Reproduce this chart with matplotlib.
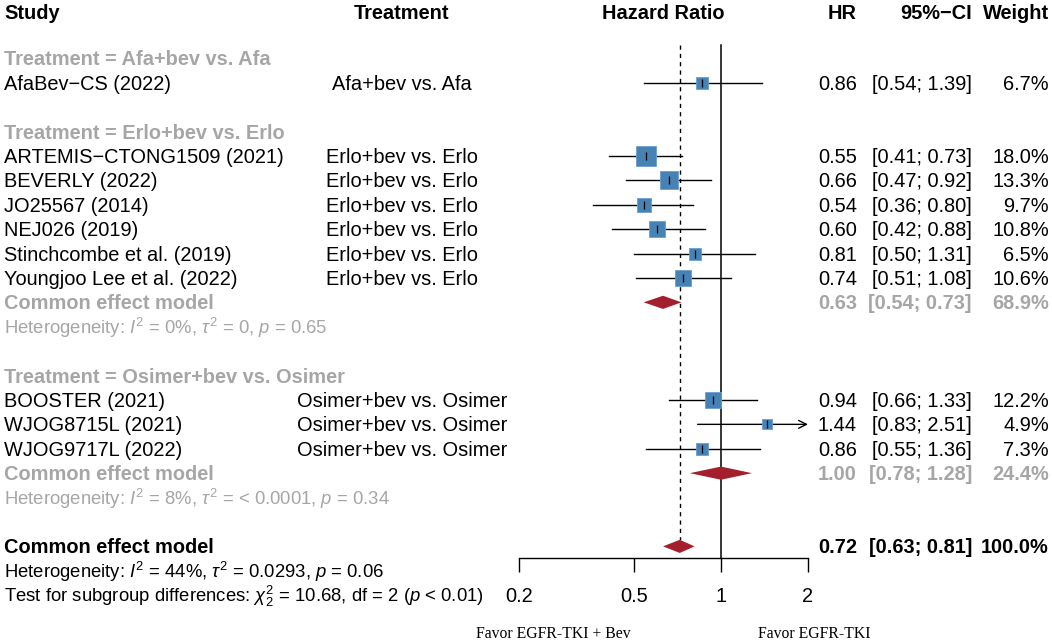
import matplotlib
matplotlib.use("Agg")
import matplotlib.pyplot as plt
import numpy as np
from matplotlib.transforms import blended_transform_factory
from matplotlib.ticker import NullLocator

plt.rcParams['font.family'] = ['Liberation Sans', 'DejaVu Sans']
plt.rcParams['mathtext.fontset'] = 'custom'
plt.rcParams['mathtext.rm'] = 'Liberation Sans'
plt.rcParams['mathtext.it'] = 'Liberation Sans:italic'
plt.rcParams['mathtext.bf'] = 'Liberation Sans:bold'

# data
groups = ["Afa+bev vs. Afa", "Erlo+bev vs. Erlo", "Osimer+bev vs. Osimer"]
study = ["AfaBev\u2212CS (2022)", "ARTEMIS\u2212CTONG1509 (2021)", "BEVERLY (2022)",
         "JO25567 (2014)", "NEJ026 (2019)", "Stinchcombe et al. (2019)",
         "Youngjoo Lee et al. (2022)", "BOOSTER (2021)", "WJOG8715L (2021)",
         "WJOG9717L (2022)"]
study_group = [0, 1, 1, 1, 1, 1, 1, 2, 2, 2]
hr = [0.86, 0.55, 0.66, 0.54, 0.60, 0.81, 0.74, 0.94, 1.44, 0.86]
lo = [0.54, 0.41, 0.47, 0.36, 0.42, 0.50, 0.51, 0.66, 0.83, 0.55]
hi = [1.39, 0.73, 0.92, 0.80, 0.88, 1.31, 1.08, 1.33, 2.51, 1.36]
weight = [6.7, 18.0, 13.3, 9.7, 10.8, 6.5, 10.6, 12.2, 4.9, 7.3]

# pooled per subgroup (None where only one study)
sub_hr = [None, 0.63, 1.00]
sub_lo = [None, 0.54, 0.78]
sub_hi = [None, 0.73, 1.28]
sub_w = [None, 68.9, 24.4]
sub_het = [None,
           r"Heterogeneity: $I^2$ = 0%, $\tau^2$ = 0, $p$ = 0.65",
           r"Heterogeneity: $I^2$ = 8%, $\tau^2$ = < 0.0001, $p$ = 0.34"]

overall = (0.72, 0.63, 0.81, 100.0)
overall_het = r"Heterogeneity: $I^2$ = 44%, $\tau^2$ = 0.0293, $p$ = 0.06"
subgroup_test = r"Test for subgroup differences: $\chi^2_2$ = 10.68, df = 2 ($p$ < 0.01)"

ticks = [0.2, 0.5, 1, 2]
xmin, xmax = 0.2, 2

GRAY = "#A6A6A6"
BLUE = "#4682B4"
RED = "#A31F2E"
FS = 14.4
FS_MATH = 13.3

W, H = 1052, 643
fig = plt.figure(figsize=(W / 100, H / 100), dpi=100)
ax = fig.add_axes([519 / W, 0, (808 - 519) / W, 1])
ax.set_xscale('log')
ax.set_xlim(xmin, xmax)
ax.set_ylim(25.96, -0.39)
ax.patch.set_visible(False)

tr = blended_transform_factory(fig.transFigure, ax.transData)
BL = 0.29  # baseline offset (rows)


def txt(xpx, row, s, ha='left', color='black', weight='normal', size=FS, **kw):
    ax.text(xpx / W, row + BL, s, transform=tr, ha=ha, va='baseline',
            fontsize=size, color=color, fontweight=weight, **kw)


def put_stats(row, h, l, u, w, color='black', weight='normal'):
    txt(857, row, f"{h:.2f}", ha='right', color=color, weight=weight)
    txt(972, row, f"[{l:.2f}; {u:.2f}]", ha='right', color=color, weight=weight)
    txt(1049, row, f"{w:.1f}%", ha='right', color=color, weight=weight)


def diamond(row, h, l, u):
    d = 0.27
    ax.fill([l, h, u, h], [row, row - d, row, row + d], color=RED, lw=0, zorder=4)


# header
txt(4, 0.1, "Study", weight='bold')
txt(402, 0.1, "Treatment", ha='center', weight='bold')
txt(663, 0.1, "Hazard Ratio", ha='center', weight='bold')
txt(857, 0.1, "HR", ha='right', weight='bold')
txt(972, 0.1, "95%\u2212CI", ha='right', weight='bold')
txt(1049, 0.1, "Weight", ha='right', weight='bold')

row = 2
for g, gname in enumerate(groups):
    txt(4, row, "Treatment = " + gname, color=GRAY, weight='bold')
    row += 1
    for i in range(len(study)):
        if study_group[i] != g:
            continue
        txt(4, row, study[i])
        txt(402, row, gname, ha='center')
        put_stats(row, hr[i], lo[i], hi[i], weight[i])
        if hi[i] > xmax:
            ax.annotate('', xy=(xmax, row), xytext=(lo[i], row),
                        arrowprops=dict(arrowstyle='->', lw=1, color='black',
                                        shrinkA=0, shrinkB=0, mutation_scale=14),
                        annotation_clip=False, zorder=3)
        else:
            ax.plot([lo[i], hi[i]], [row, row], color='black', lw=1, zorder=3)
        side_pt = 4.8 * np.sqrt(weight[i]) * 0.72
        ax.scatter([hr[i]], [row], marker='s', s=side_pt ** 2, color=BLUE,
                   edgecolor='#6A9ECF', linewidth=0.6, zorder=4)
        ax.plot([hr[i]], [row], marker='|', markersize=5.5, mew=0.9,
                color='black', zorder=5)
        row += 1
    if sub_hr[g] is not None:
        txt(4, row, "Common effect model", color=GRAY, weight='bold')
        put_stats(row, sub_hr[g], sub_lo[g], sub_hi[g], sub_w[g],
                  color=GRAY, weight='bold')
        diamond(row, sub_hr[g], sub_lo[g], sub_hi[g])
        row += 1
        txt(4, row, sub_het[g], color=GRAY, size=FS_MATH)
        row += 1
    row += 1

# overall
txt(4, row, "Common effect model", weight='bold')
put_stats(row, *overall, weight='bold')
diamond(row, overall[0], overall[1], overall[2])
txt(4, row + 1, overall_het, size=FS_MATH)
txt(4, row + 2, subgroup_test, size=FS_MATH)

# reference lines
ax.plot([1, 1], [1.45, 22.48], color='black', lw=1.1, zorder=2)
ax.plot([overall[0], overall[0]], [1.45, row - 0.27], color='black', lw=1,
        dashes=(3, 3), zorder=2)

# axis
for s in ['left', 'right', 'top']:
    ax.spines[s].set_visible(False)
ax.spines['bottom'].set_position(('data', 22.48))
ax.spines['bottom'].set_linewidth(1)
ax.set_yticks([])
ax.set_xticks(ticks)
ax.set_xticklabels([f"{t:g}" for t in ticks])
ax.xaxis.set_minor_locator(NullLocator())
ax.tick_params(axis='x', length=10, width=1, pad=11, labelsize=FS)

# favor labels
ax.text(553 / W, 25.5 + 0.27, "Favor EGFR-TKI + Bev", transform=tr, ha='center',
        va='baseline', fontsize=11.3, family='Liberation Serif')
ax.text(814 / W, 25.5 + 0.27, "Favor EGFR-TKI", transform=tr, ha='center',
        va='baseline', fontsize=11.3, family='Liberation Serif')

fig.savefig("out.png", dpi=100)
